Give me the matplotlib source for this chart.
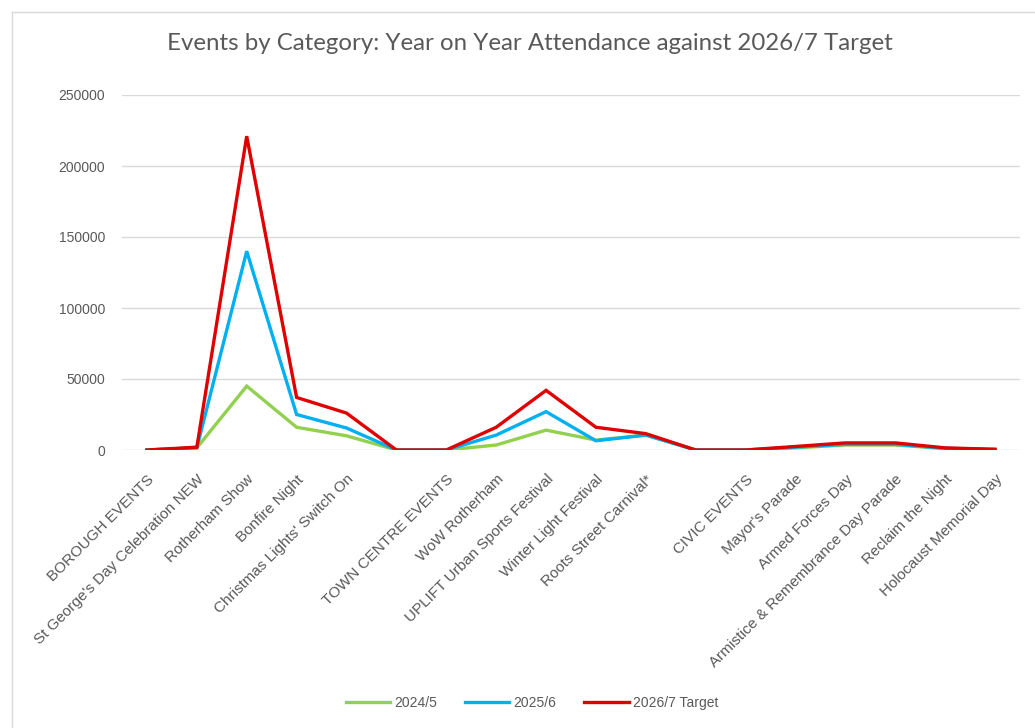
import numpy as np
import matplotlib
matplotlib.use('Agg')
import matplotlib.pyplot as plt
from matplotlib.lines import Line2D

# categories (blank entries are the separators between groups)
categories = ['BOROUGH EVENTS', "St George's Day Celebration NEW", 'Rotherham Show',
              'Bonfire Night', "Christmas Lights' Switch On", '',
              'TOWN CENTRE EVENTS', 'WoW Rotherham', 'UPLIFT Urban Sports Festival',
              'Winter Light Festival', 'Roots Street Carnival*', '',
              'CIVIC EVENTS', "Mayor's Parade", 'Armed Forces Day',
              'Armistice & Remembrance Day Parade', 'Reclaim the Night',
              'Holocaust Memorial Day']

att_2024 = [0, 1500, 45000, 16000, 10000, 0, 0, 3500, 14000, 7000, 10500, 0,
            0, 1500, 3500, 3500, 1000, 300]
att_2025 = [0, 1500, 140000, 25000, 15500, 0, 0, 10500, 27000, 6500, 10500, 0,
            0, 2000, 4000, 4000, 1200, 400]
target_2026 = [0, 2000, 221000, 37000, 26000, 0, 0, 16000, 42000, 16000, 11500, 0,
               0, 2500, 5000, 5000, 1500, 500]

series = [('2024/5', att_2024, '#92D050'),
          ('2025/6', att_2025, '#00B0F0'),
          ('2026/7 Target', target_2026, '#E00000')]

plt.rcParams['font.family'] = ['Liberation Sans', 'DejaVu Sans']

fig = plt.figure(figsize=(10.35, 7.28), dpi=100)
ax = fig.add_axes([122/1035, 1 - 450/728, (1020-122)/1035, (450-95)/728])

x = np.arange(len(categories))
for name, vals, col in series:
    ax.plot(x, vals, color=col, lw=2.4, label=name, solid_joinstyle='miter')

ax.set_xlim(-0.5, len(categories) - 0.5)
ax.set_ylim(0, 250000)
ax.set_yticks(np.arange(0, 250001, 50000))
ax.set_yticklabels([str(v) for v in range(0, 250001, 50000)], fontsize=10, color='#595959')
ax.yaxis.grid(True, color='#D9D9D9', lw=1)
ax.set_axisbelow(True)
for s in ax.spines.values():
    s.set_visible(False)
ax.tick_params(axis='both', length=0)
ax.tick_params(axis='y', pad=12)

ax.set_xticks(x)
ax.set_xticklabels(categories, rotation=45, ha='right', va='top',
                   rotation_mode='anchor', fontsize=11, color='#595959')
ax.tick_params(axis='x', pad=16)

fig.text(0.512, 1 - 43/728, 'Events by Category: Year on Year Attendance against 2026/7 Target',
         ha='center', va='center', fontsize=17.3, color='#595959',
         family=['Lato', 'DejaVu Sans'])

handles = [Line2D([0], [0], color=c, lw=2.4) for _, _, c in series]
fig.legend(handles, [n for n, _, _ in series], loc='center',
           bbox_to_anchor=(532/1035, 1 - 703/728), ncol=3, frameon=False,
           fontsize=10, handlelength=3.2, handletextpad=0.3, columnspacing=2.0,
           labelcolor='#595959')

# faint sheet border of the screenshot
fig.add_artist(Line2D([12/1035, 12/1035], [0, 1 - 12/728], color='#D9D9D9', lw=1))
fig.add_artist(Line2D([12/1035, 1], [1 - 12/728, 1 - 12/728], color='#D9D9D9', lw=1))

fig.savefig('out.png', dpi=100)
